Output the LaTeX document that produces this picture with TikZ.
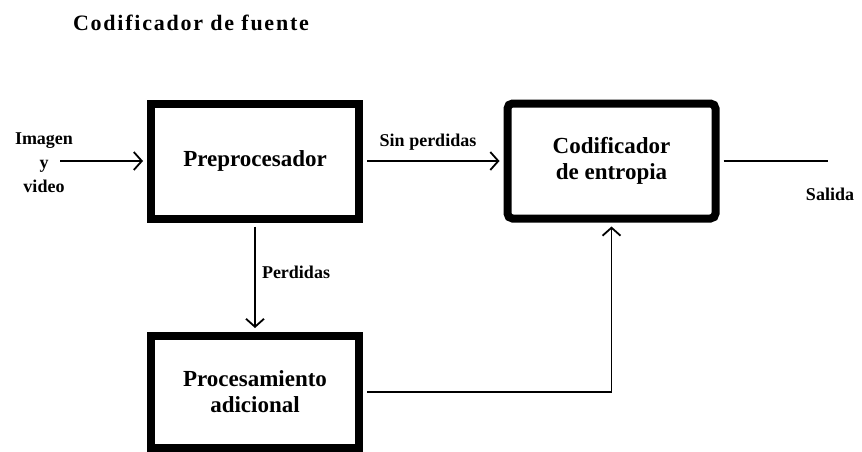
\documentclass[tikz,border=0pt]{standalone}
\usepackage{fontspec}
\setmainfont{Liberation Serif}
\usetikzlibrary{arrows.meta}

\begin{document}
\begin{tikzpicture}[x=1pt,y=-1pt,
	caja/.style={draw,line width=8pt,minimum width=208pt,minimum height=115pt,align=center,font=\fontsize{23}{26}\selectfont\bfseries},
	etiq/.style={align=center,font=\fontsize{18}{24}\selectfont\bfseries},
	flecha/.style={line width=1.8pt,-{Straight Barb[length=8pt,width=18pt]}}]
				\useasboundingbox (0,0) rectangle (862,452);
				\node (titulo) at (191,23) {\fontsize{22}{26}\selectfont\bfseries\addfontfeature{LetterSpace=8}Codificador de fuente};
				\node[caja] (pre) at (255,161) {Preprocesador};
				\node[caja,rounded corners=5pt] (cod) at (611.5,161) {Codificador\\de entropia};
				\node[caja,minimum height=112pt] (proc) at (255,392) {Procesamiento\\adicional};
				\node[etiq] (entrada) at (44,163) {Imagen\\y\\video};
				\coordinate (ini) at (60,161);
				\coordinate (fin) at (828,161);
				\draw[flecha,shorten >=4pt] (ini) -- (pre.west);
				\draw[flecha,shorten <=4pt,shorten >=4pt] (pre.east) -- (cod.west);
				\node[etiq] (sinp) at (428,142) {Sin perdidas};
				\draw[flecha,shorten <=4pt,shorten >=4pt] (pre.south) -- (proc.north);
				\node[etiq] (perd) at (296,272) {Perdidas};
				\draw[line width=1.8pt,shorten <=4pt] (cod.east) -- (fin);
				\node[etiq] (salida) at (830,194) {Salida};
				\draw[flecha,shorten <=4pt,shorten >=4pt] (proc.east) -| (cod.south);
			\end{tikzpicture}
\end{document}
